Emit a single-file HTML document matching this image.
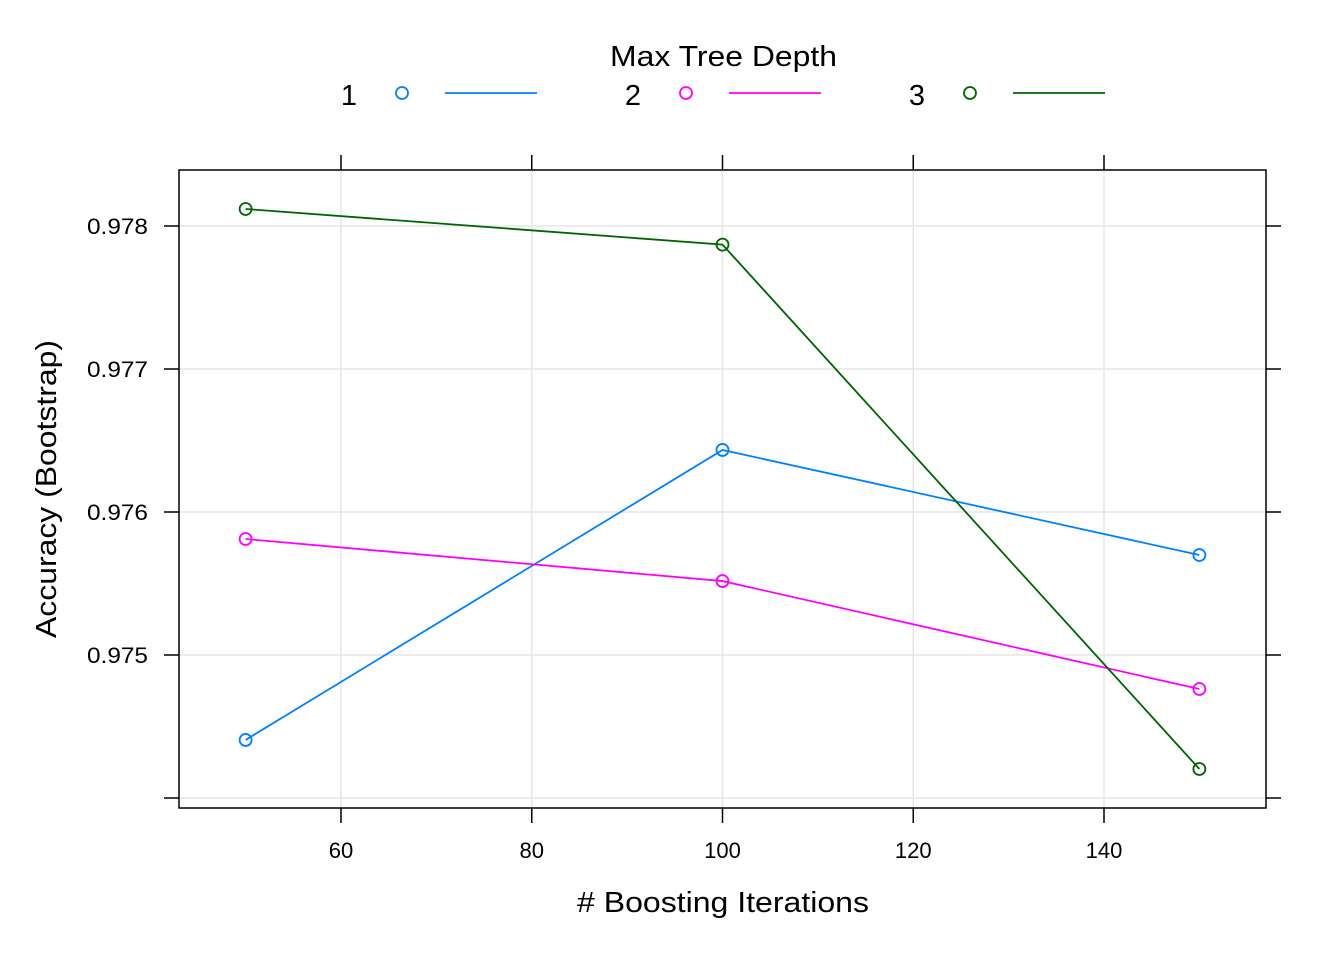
<!DOCTYPE html>
<html><head><meta charset="utf-8"><style>
body{margin:0;background:#fff}
svg text{font-family:"Liberation Sans",Arial,sans-serif}
</style></head><body>
<svg id="chart" width="1344" height="960" viewBox="0 0 1344 960" xmlns="http://www.w3.org/2000/svg">
<g id="grid"></g>
<g id="axes"></g>
<g id="series"></g>
<rect x="179" y="170" width="1087" height="638" fill="none" stroke="#000" stroke-width="1.5"/>
<text x="577" y="912" font-size="29" textLength="292" lengthAdjust="spacingAndGlyphs">&#35; Boosting Iterations</text>
<text transform="translate(56,638) rotate(-90)" font-size="29" textLength="298" lengthAdjust="spacingAndGlyphs">Accuracy (Bootstrap)</text>
<text x="610" y="66" font-size="29" textLength="227" lengthAdjust="spacingAndGlyphs">Max Tree Depth</text>
<g id="legend"></g>
</svg>
<script>
const iterations = [50, 100, 150];
const depths = ["1", "2", "3"];
const depth1 = [0.974406, 0.976434, 0.975699];
const depth2 = [0.975811, 0.975517, 0.974762];
const depth3 = [0.978119, 0.977870, 0.974203];
const xTicks = [60, 80, 100, 120, 140];
const yTicks = [0.974, 0.975, 0.976, 0.977, 0.978];
const yTickLabels = ["", "0.975", "0.976", "0.977", "0.978"];

const colors = ["#0080ff", "#ff00ff", "#006400"];
const NS = "http://www.w3.org/2000/svg";
function xs(v){ return 341 + (v - 60) * (1104 - 341) / 80; }
function ys(v){ return 226 + (0.978 - v) * 143000; }
function mk(tag, attrs, parent){ const e = document.createElementNS(NS, tag); for (const k in attrs) e.setAttribute(k, attrs[k]); parent.appendChild(e); return e; }
const grid = document.getElementById("grid"), axes = document.getElementById("axes"), series = document.getElementById("series"), legend = document.getElementById("legend");
xTicks.forEach(t => {
  const x = xs(t);
  const g = mk("line", {x1:x, x2:x, y1:170, y2:808, stroke:"#e6e6e6", "stroke-width":1.5}, grid);
  
  
  [[155,170],[808,823]].forEach(([a,b]) => {
    const tk = mk("line", {x1:x, x2:x, y1:a, y2:b, stroke:"#000", "stroke-width":1.5}, axes);
    
    
  });
  const tx = mk("text", {x:x, y:858, "font-size":22, "text-anchor":"middle"}, axes);
  tx.textContent = t;
  
  
});
yTicks.forEach((t, i) => {
  const y = ys(t);
  const g = mk("line", {x1:179, x2:1266, y1:y, y2:y, stroke:"#e6e6e6", "stroke-width":1.5}, grid);
  
  
  [[164,179],[1266,1281]].forEach(([a,b]) => {
    const tk = mk("line", {x1:a, x2:b, y1:y, y2:y, stroke:"#000", "stroke-width":1.5}, axes);
    
    
  });
  if (yTickLabels[i]) {
    const tx = mk("text", {x:87, y:y + 8, "font-size":22, textLength:61, lengthAdjust:"spacingAndGlyphs"}, axes);
    tx.textContent = yTickLabels[i];
    
    
  }
});
[depth1, depth2, depth3].forEach((vals, s) => {
  const pts = vals.map((v, i) => xs(iterations[i]) + "," + ys(v)).join(" ");
  const pl = mk("polyline", {points:pts, fill:"none", stroke:colors[s], "stroke-width":1.8}, series);
  
  
  vals.forEach((v, i) => {
    const c = mk("circle", {cx:xs(iterations[i]), cy:ys(v), r:6, fill:"none", stroke:colors[s], "stroke-width":1.8}, series);
    
    
  });
  const ox = 284 * s;
  const lt = mk("text", {x:349 + ox, y:105, "font-size":29, "text-anchor":"middle"}, legend);
  lt.textContent = depths[s];
  
  
  const lc = mk("circle", {cx:402 + ox, cy:93, r:6, fill:"none", stroke:colors[s], "stroke-width":1.8}, legend);
  
  
  const ll = mk("line", {x1:445 + ox, x2:537 + ox, y1:93, y2:93, stroke:colors[s], "stroke-width":1.8}, legend);
  
  
});
</script>
</body></html>
